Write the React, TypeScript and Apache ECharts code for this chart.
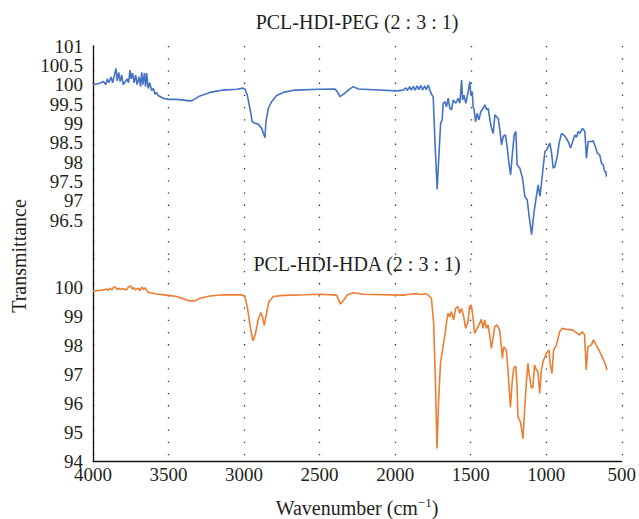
import React, { useEffect, useRef } from "react";
import * as echarts from "echarts";

// PCL-HDI-PEG (2:3:1): wavenumber (cm^-1) and transmittance
const pegWn = [
  4000, 3960, 3930, 3915, 3905, 3895, 3880, 3870, 3855, 3848, 3840, 3830, 3820, 3810, 3800, 3790, 3775, 3765,
  3755, 3748, 3738, 3728, 3718, 3708, 3695, 3685, 3678, 3670, 3660, 3652, 3645, 3635, 3625, 3612, 3600, 3590,
  3580, 3570, 3550, 3537, 3500, 3446, 3400, 3358, 3339, 3292, 3226, 3140, 3049, 3008, 2995, 2979, 2962, 2946,
  2929, 2907, 2884, 2862, 2856, 2840, 2818, 2785, 2741, 2664, 2499, 2399, 2384, 2366, 2344, 2311, 2278, 2245,
  2146, 1991, 1947, 1930, 1920, 1905, 1895, 1880, 1870, 1855, 1845, 1830, 1820, 1805, 1795, 1782, 1771, 1760,
  1749, 1738, 1723, 1712, 1700, 1690, 1683, 1672, 1661, 1650, 1639, 1628, 1617, 1599, 1584, 1573, 1561, 1555,
  1546, 1533, 1522, 1507, 1500, 1491, 1485, 1478, 1469, 1458, 1447, 1434, 1419, 1407, 1396, 1385, 1374, 1363,
  1352, 1341, 1330, 1319, 1308, 1297, 1286, 1271, 1260, 1247, 1237, 1224, 1213, 1202, 1194, 1176, 1158, 1143,
  1127, 1114, 1098, 1083, 1070, 1055, 1043, 1032, 1021, 1010, 999, 988, 977, 966, 955, 944, 929, 916, 900, 878,
  856, 840, 823, 812, 801, 790, 779, 761, 746, 735, 724, 702, 691, 673, 664, 647, 636, 625, 614, 607, 603,
];
const pegT = [
  100.0, 100.03, 100.08, 100.0, 100.15, 100.05, 100.2, 100.05, 100.3, 100.42, 100.1, 100.32, 100.08, 100.25,
  100.0, 100.05, 100.15, 100.05, 100.38, 100.15, 100.3, 100.05, 100.25, 100.0, 100.2, 99.95, 100.32, 100.0,
  100.3, 99.95, 100.3, 99.9, 100.05, 99.85, 99.9, 99.75, 99.8, 99.72, 99.68, 99.65, 99.62, 99.62, 99.6, 99.58,
  99.6, 99.71, 99.8, 99.86, 99.88, 99.91, 99.89, 99.73, 99.39, 99.04, 99.0, 98.98, 98.87, 98.63, 99.04, 99.39,
  99.56, 99.72, 99.8, 99.86, 99.88, 99.89, 99.82, 99.69, 99.75, 99.86, 99.95, 99.89, 99.87, 99.84, 99.86,
  99.92, 99.85, 99.95, 99.86, 99.96, 99.86, 99.97, 99.87, 99.98, 99.86, 99.97, 99.87, 99.99, 99.86, 99.75,
  99.69, 98.57, 97.3, 98.14, 99.0, 99.09, 99.52, 99.56, 99.43, 99.65, 99.39, 99.35, 99.6, 99.52, 99.65, 99.52,
  100.12, 99.6, 99.73, 99.52, 99.73, 100.08, 99.73, 99.82, 99.43, 99.35, 99.04, 99.26, 99.09, 99.3, 99.39,
  99.48, 99.35, 99.39, 99.09, 98.87, 98.74, 99.22, 99.17, 99.13, 98.83, 98.44, 98.66, 98.7, 98.4, 97.93, 97.67,
  98.27, 98.7, 98.79, 97.93, 97.84, 97.58, 97.11, 97.02, 96.59, 96.12, 96.68, 97.02, 97.41, 97.11, 97.49, 97.88,
  98.27, 98.31, 98.4, 98.49, 98.23, 97.84, 97.88, 98.14, 98.49, 98.74, 98.67, 98.53, 98.36, 98.57, 98.7, 98.64,
  98.79, 98.74, 98.87, 98.79, 98.1, 98.53, 98.53, 98.55, 98.36, 98.23, 98.18, 97.97, 97.93, 97.75, 97.75, 97.62,
];

// PCL-HDI-HDA (2:3:1)
const hdaWn = [
  4000, 3960, 3932, 3910, 3900, 3888, 3875, 3865, 3854, 3840, 3830, 3821, 3800, 3780, 3765, 3751, 3740, 3730,
  3722, 3700, 3690, 3675, 3665, 3656, 3640, 3623, 3579, 3513, 3446, 3403, 3358, 3325, 3292, 3226, 3138, 3017,
  2995, 2979, 2966, 2950, 2940, 2924, 2907, 2889, 2878, 2867, 2851, 2836, 2807, 2741, 2587, 2499, 2388, 2362,
  2340, 2318, 2278, 2212, 1947, 1900, 1859, 1820, 1800, 1782, 1760, 1745, 1733, 1723, 1712, 1700, 1683, 1672,
  1661, 1650, 1639, 1628, 1613, 1599, 1584, 1573, 1561, 1546, 1533, 1518, 1507, 1496, 1485, 1474, 1463, 1445,
  1430, 1419, 1407, 1396, 1385, 1374, 1363, 1352, 1341, 1326, 1308, 1297, 1290, 1282, 1264, 1253, 1237, 1226,
  1215, 1202, 1194, 1187, 1171, 1160, 1154, 1143, 1132, 1121, 1110, 1098, 1088, 1077, 1065, 1055, 1043, 1032,
  1021, 999, 982, 973, 962, 951, 933, 911, 893, 867, 823, 801, 779, 761, 746, 735, 724, 702, 687, 669, 651, 636,
  620, 607, 598,
];
const hdaT = [
  99.88, 99.9, 99.92, 99.95, 99.9, 99.98, 99.92, 100.0, 100.03, 99.93, 99.98, 99.94, 99.96, 99.92, 100.02,
  100.06, 99.95, 100.0, 99.92, 99.98, 99.9, 100.02, 99.92, 100.0, 99.86, 99.82, 99.78, 99.74, 99.69, 99.61,
  99.54, 99.54, 99.63, 99.71, 99.75, 99.75, 99.69, 99.34, 98.88, 98.36, 98.16, 98.42, 98.88, 99.14, 98.99,
  98.69, 99.11, 99.51, 99.69, 99.73, 99.75, 99.77, 99.74, 99.43, 99.57, 99.74, 99.82, 99.77, 99.74, 99.77,
  99.79, 99.76, 99.8, 99.74, 99.63, 98.76, 96.69, 94.43, 96.11, 97.38, 97.95, 98.3, 98.76, 99.11, 98.99, 99.17,
  98.88, 99.28, 99.34, 99.11, 99.28, 98.99, 98.59, 98.82, 99.34, 99.4, 98.99, 98.42, 98.53, 98.71, 98.9, 98.59,
  98.88, 98.59, 98.71, 98.36, 97.9, 98.25, 98.65, 98.71, 98.53, 97.95, 97.55, 97.95, 97.84, 97.15, 95.86,
  96.69, 97.21, 97.29, 96.69, 95.53, 95.36, 95.01, 94.77, 95.76, 96.69, 97.38, 96.92, 96.52, 96.57, 97.32,
  97.15, 97.09, 96.34, 97.15, 97.44, 97.73, 97.84, 97.32, 97.03, 97.84, 98.01, 98.47, 98.59, 98.56, 98.53,
  98.44, 98.36, 98.47, 98.36, 97.15, 97.95, 98.01, 98.19, 98.01, 97.84, 97.67, 97.49, 97.32, 97.15,
];

const xTicks = { min: 500, max: 4000, interval: 500 };
const topY = { min: 95.5, max: 101, interval: 0.5, firstLabel: 96.5 };
const bottomY = { min: 94, max: 101, interval: 1, lastLabel: 100 };
const titles = ["PCL-HDI-PEG (2 : 3 : 1)", "PCL-HDI-HDA (2 : 3 : 1)"];

const FONT = "'Liberation Serif', 'DejaVu Serif', serif";
const TXT = "#231f20";

export default function App() {
  const ref = useRef<HTMLDivElement>(null);
  useEffect(() => {
    if (!ref.current) return;
    const chart = echarts.init(ref.current, null, { renderer: "svg" });
    const pegData = pegWn.map((w, i) => [w, pegT[i]]);
    const hdaData = hdaWn.map((w, i) => [w, hdaT[i]]);
    const split = {
      show: true,
      lineStyle: { color: "#333", width: 1.3, type: [1.3, 10.9] as any },
    };
    const xBase = {
      type: "value" as const,
      min: xTicks.min,
      max: xTicks.max,
      interval: xTicks.interval,
      inverse: true,
      splitLine: split,
      axisTick: { show: false },
    };
    chart.setOption({
      animation: false,
      backgroundColor: "#fff",
      grid: [
        { left: 93, right: 17, top: 46, height: 212.7 },
        { left: 93, right: 17, top: 258.7, height: 202.3 },
      ],
      xAxis: [
        { ...xBase, gridIndex: 0, axisLine: { show: false }, axisLabel: { show: false } },
        {
          ...xBase,
          gridIndex: 1,
          axisLine: { show: true, lineStyle: { color: "#111", width: 1.3 } },
          axisLabel: {
            show: true,
            margin: 4,
            fontFamily: FONT,
            fontSize: 19,
            color: TXT,
            formatter: (v: number) => String(v),
          },
        },
      ],
      yAxis: [
        {
          type: "value",
          gridIndex: 0,
          min: topY.min,
          max: topY.max,
          interval: topY.interval,
          splitLine: { show: false },
          axisTick: { show: false },
          axisLine: { show: true, lineStyle: { color: "#111", width: 1.3 } },
          axisLabel: {
            margin: 10,
            fontFamily: FONT,
            fontSize: 19,
            color: TXT,
            formatter: (v: number) => (v >= topY.firstLabel - 1e-9 ? String(v) : ""),
          },
        },
        {
          type: "value",
          gridIndex: 1,
          min: bottomY.min,
          max: bottomY.max,
          interval: bottomY.interval,
          splitLine: { show: false },
          axisTick: { show: false },
          axisLine: { show: true, lineStyle: { color: "#111", width: 1.3 } },
          axisLabel: {
            margin: 10,
            fontFamily: FONT,
            fontSize: 19,
            color: TXT,
            formatter: (v: number) => (v <= bottomY.lastLabel + 1e-9 ? String(v) : ""),
          },
        },
      ],
      series: [
        {
          type: "line",
          name: titles[0],
          xAxisIndex: 0,
          yAxisIndex: 0,
          data: pegData,
          showSymbol: false,
          lineStyle: { color: "#4472c4", width: 1.6 },
          itemStyle: { color: "#4472c4" },
        },
        {
          type: "line",
          name: titles[1],
          xAxisIndex: 1,
          yAxisIndex: 1,
          data: hdaData,
          showSymbol: false,
          lineStyle: { color: "#ed7d31", width: 1.6 },
          itemStyle: { color: "#ed7d31" },
        },
      ],
      graphic: [
        {
          type: "text",
          x: 357,
          y: 22,
          style: { text: titles[0], fontFamily: FONT, fontSize: 20, fill: TXT, textAlign: "center", textVerticalAlign: "middle" },
        },
        {
          type: "text",
          x: 357,
          y: 264,
          style: { text: titles[1], fontFamily: FONT, fontSize: 20, fill: TXT, textAlign: "center", textVerticalAlign: "middle" },
        },
        {
          type: "text",
          x: 19,
          y: 256,
          rotation: Math.PI / 2,
          style: { text: "Transmittance", fontFamily: FONT, fontSize: 20, fill: TXT, textAlign: "center", textVerticalAlign: "middle" },
        },
        {
          type: "text",
          x: 357,
          y: 508,
          style: {
            text: "{a|Wavenumber (cm}{b|−1}{a|)}",
            textAlign: "center",
            textVerticalAlign: "middle",
            rich: {
              a: { fontFamily: FONT, fontSize: 20, fill: TXT, lineHeight: 24 },
              b: { fontFamily: FONT, fontSize: 13, fill: TXT, lineHeight: 14, verticalAlign: "top" },
            },
          },
        },
      ],
    });
    return () => chart.dispose();
  }, []);
  return <div ref={ref} style={{ width: 639, height: 519, position: "absolute", left: 0, top: 0 }} />;
}
